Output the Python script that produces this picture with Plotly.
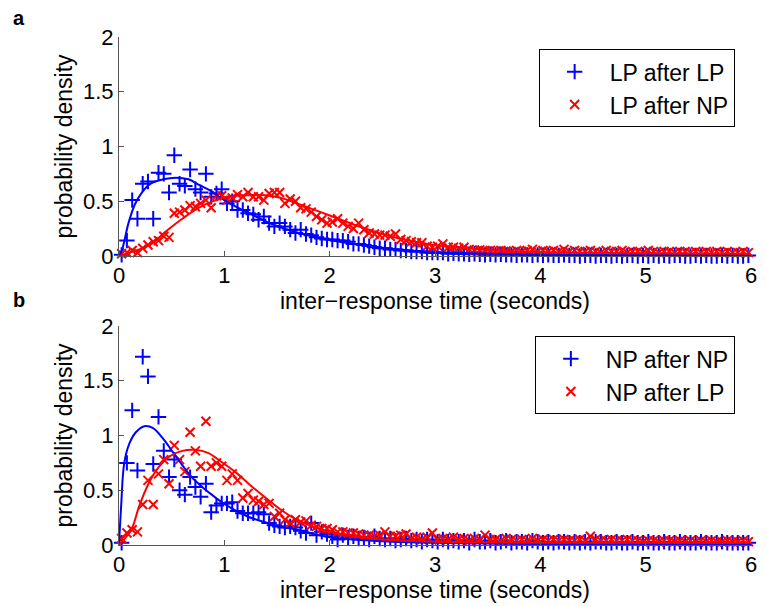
import numpy as np
import plotly.graph_objects as go

# ---- data: histogram bin centres (seconds) ----
bin_centers = np.round(0.025 + 0.05 * np.arange(120), 3)

# panel a
lp_after_lp = [
    0.01, 0.14, 0.51, 0.34, 0.66, 0.68, 0.34, 0.76, 0.75, 0.58,
    0.92, 0.66, 0.64, 0.79, 0.61, 0.58, 0.75, 0.54, 0.57, 0.61,
    0.48, 0.50, 0.42, 0.42, 0.39, 0.38, 0.33, 0.36, 0.30, 0.27,
    0.30, 0.27, 0.24, 0.21, 0.24, 0.20, 0.19, 0.17, 0.16, 0.15,
    0.15, 0.14, 0.14, 0.13, 0.11, 0.11, 0.10, 0.09, 0.08, 0.07,
    0.07, 0.06, 0.06, 0.05, 0.05, 0.04, 0.04, 0.04, 0.03, 0.03,
    0.03, 0.03, 0.02, 0.025, 0.02, 0.02, 0.015, 0.02, 0.015, 0.01,
    0.015, 0.01, 0.015, 0.01, 0.01, 0.005, 0.01, 0.01, 0.005, 0.01,
    0.005, 0.01, 0.005, 0.005, 0.01, 0.005, 0.005, 0.0, 0.005, 0.005,
    0.0, 0.005, 0.005, 0.0, 0.005, 0.0, 0.005, 0.005, 0.0, 0.005,
    0.0, 0.005, 0.0, 0.005, 0.0, 0.005, 0.005, 0.0, 0.0, 0.005,
    0.0, 0.005, 0.0, 0.0, 0.005, 0.0, 0.005, 0.0, 0.0, 0.005,
]
lp_after_np = [
    0.02, 0.03, 0.05, 0.03, 0.07, 0.10, 0.13, 0.14, 0.18, 0.17,
    0.39, 0.40, 0.42, 0.46, 0.45, 0.48, 0.51, 0.44, 0.55, 0.55,
    0.51, 0.53, 0.56, 0.54, 0.58, 0.54, 0.54, 0.51, 0.57, 0.58,
    0.58, 0.48, 0.52, 0.50, 0.44, 0.43, 0.40, 0.36, 0.33, 0.30,
    0.31, 0.34, 0.30, 0.27, 0.25, 0.30, 0.24, 0.21, 0.20, 0.19,
    0.19, 0.18, 0.20, 0.15, 0.14, 0.13, 0.12, 0.12, 0.09, 0.08,
    0.09, 0.11, 0.08, 0.08, 0.07, 0.08, 0.06, 0.055, 0.055, 0.05,
    0.05, 0.045, 0.05, 0.045, 0.04, 0.05, 0.04, 0.05, 0.06, 0.04,
    0.05, 0.04, 0.05, 0.04, 0.06, 0.04, 0.05, 0.04, 0.04, 0.05,
    0.04, 0.03, 0.05, 0.04, 0.04, 0.05, 0.03, 0.04, 0.04, 0.03,
    0.05, 0.04, 0.03, 0.04, 0.04, 0.03, 0.04, 0.04, 0.03, 0.04,
    0.03, 0.04, 0.03, 0.04, 0.03, 0.04, 0.03, 0.03, 0.04, 0.03,
]

# panel b
np_after_np = [
    0.02, 0.75, 1.23, 0.68, 1.72, 1.54, 0.74, 1.17, 0.86, 0.62,
    0.78, 0.50, 0.46, 0.62, 0.53, 0.44, 0.56, 0.30, 0.36, 0.38,
    0.38, 0.39, 0.31, 0.29, 0.29, 0.29, 0.30, 0.28, 0.20, 0.18,
    0.17, 0.16, 0.17, 0.16, 0.13, 0.11, 0.20, 0.09, 0.12, 0.10,
    0.08, 0.05, 0.09, 0.07, 0.08, 0.06, 0.07, 0.05, 0.08, 0.06,
    0.05, 0.06, 0.04, 0.05, 0.06, 0.04, 0.05, 0.03, 0.05, 0.04,
    0.03, 0.05, 0.03, 0.04, 0.03, 0.04, 0.02, 0.05, 0.03, 0.03,
    0.04, 0.02, 0.03, 0.04, 0.02, 0.03, 0.03, 0.02, 0.04, 0.03,
    0.02, 0.03, 0.02, 0.03, 0.03, 0.02, 0.03, 0.02, 0.03, 0.02,
    0.03, 0.03, 0.02, 0.02, 0.03, 0.02, 0.02, 0.03, 0.02, 0.02,
    0.03, 0.02, 0.02, 0.03, 0.02, 0.02, 0.03, 0.02, 0.02, 0.02,
    0.03, 0.02, 0.02, 0.02, 0.03, 0.02, 0.02, 0.02, 0.02, 0.02,
]
np_after_lp = [
    0.06, 0.11, 0.14, 0.12, 0.37, 0.59, 0.37, 0.65, 0.78, 0.56,
    0.91, 0.78, 0.67, 1.03, 0.86, 0.72, 1.13, 0.72, 0.75, 0.72,
    0.59, 0.65, 0.59, 0.43, 0.47, 0.41, 0.40, 0.37, 0.38, 0.26,
    0.29, 0.23, 0.20, 0.23, 0.21, 0.22, 0.18, 0.17, 0.15, 0.15,
    0.14, 0.12, 0.12, 0.11, 0.11, 0.10, 0.09, 0.09, 0.08, 0.09,
    0.12, 0.08, 0.08, 0.09, 0.10, 0.06, 0.07, 0.05, 0.07, 0.11,
    0.05, 0.06, 0.05, 0.07, 0.05, 0.06, 0.04, 0.06, 0.05, 0.09,
    0.05, 0.05, 0.04, 0.06, 0.05, 0.04, 0.05, 0.04, 0.06, 0.04,
    0.05, 0.04, 0.05, 0.04, 0.05, 0.04, 0.04, 0.05, 0.04, 0.08,
    0.05, 0.04, 0.04, 0.05, 0.04, 0.04, 0.05, 0.04, 0.04, 0.03,
    0.04, 0.04, 0.03, 0.04, 0.04, 0.03, 0.04, 0.03, 0.04, 0.03,
    0.04, 0.03, 0.04, 0.03, 0.03, 0.04, 0.03, 0.03, 0.04, 0.03,
]

# fitted curves
fit_a_blue_x = [0, 0.03, 0.09, 0.15, 0.21, 0.3, 0.42, 0.54, 0.66, 0.76, 0.88, 1.0,
                1.17, 1.32, 1.48, 1.67, 2.0, 2.5, 3.0, 3.5, 4.0, 5.0, 6.0]
fit_a_blue_y = [0, 0.06, 0.30, 0.47, 0.57, 0.66, 0.70, 0.715, 0.70, 0.65, 0.59, 0.51,
                0.42, 0.35, 0.28, 0.22, 0.145, 0.075, 0.035, 0.02, 0.012, 0.006, 0.004]
fit_a_red_x = [0, 0.13, 0.29, 0.44, 0.6, 0.755, 0.92, 1.075, 1.23, 1.39, 1.54, 1.69,
               2.0, 2.25, 2.5, 2.75, 3.0, 3.5, 4.0, 5.0, 6.0]
fit_a_red_y = [0, 0.04, 0.10, 0.22, 0.34, 0.44, 0.51, 0.55, 0.555, 0.555, 0.53, 0.48,
               0.37, 0.28, 0.20, 0.14, 0.10, 0.055, 0.035, 0.025, 0.02]
fit_b_blue_x = [0, 0.02, 0.05, 0.1, 0.16, 0.24, 0.32, 0.42, 0.51, 0.6, 0.69, 0.79, 0.88,
                0.97, 1.07, 1.22, 1.38, 1.54, 1.69, 2.0, 2.5, 3.0, 4.0, 5.0, 6.0]
fit_b_blue_y = [0, 0.35, 0.75, 0.93, 1.03, 1.085, 1.07, 0.97, 0.85, 0.73, 0.62, 0.53, 0.46,
                0.395, 0.335, 0.26, 0.21, 0.165, 0.14, 0.07, 0.035, 0.02, 0.01, 0.006, 0.005]
fit_b_red_x = [0, 0.07, 0.13, 0.19, 0.28, 0.38, 0.48, 0.6, 0.72, 0.85, 0.97, 1.1, 1.23,
               1.38, 1.54, 1.69, 2.0, 2.25, 2.5, 3.0, 3.5, 4.0, 5.0, 6.0]
fit_b_red_y = [0, 0.076, 0.17, 0.35, 0.56, 0.715, 0.81, 0.86, 0.87, 0.84, 0.76, 0.67, 0.56,
               0.44, 0.32, 0.23, 0.12, 0.075, 0.05, 0.03, 0.025, 0.02, 0.02, 0.02]

x_ticks = [0, 1, 2, 3, 4, 5, 6]
y_ticks = [0, 0.5, 1, 1.5, 2]
y_ticktext = ["0", "0.5", "1", "1.5", "2"]

BLUE = "#0000FF"
RED = "#FF0000"
FONT = "Liberation Sans, Arial, sans-serif"
TICK_SIZE = 22
TITLE_SIZE = 23

fig = go.Figure()

def add_panel(xa, ya, legend, blue_y, red_y, blue_name, red_name, bx, by, rx, ry):
    fig.add_trace(go.Scatter(x=bin_centers, y=blue_y, mode="markers", name=blue_name,
                             marker=dict(symbol="cross-thin", size=11, line=dict(color=BLUE, width=2)),
                             xaxis=xa, yaxis=ya, legend=legend, cliponaxis=False))
    fig.add_trace(go.Scatter(x=bin_centers, y=red_y, mode="markers", name=red_name,
                             marker=dict(symbol="x-thin", size=9, line=dict(color=RED, width=2)),
                             xaxis=xa, yaxis=ya, legend=legend, cliponaxis=False))
    fig.add_trace(go.Scatter(x=bx, y=by, mode="lines", line=dict(color=BLUE, width=2, shape="spline"),
                             xaxis=xa, yaxis=ya, showlegend=False))
    fig.add_trace(go.Scatter(x=rx, y=ry, mode="lines", line=dict(color=RED, width=2, shape="spline"),
                             xaxis=xa, yaxis=ya, showlegend=False))

add_panel("x", "y", "legend", lp_after_lp, lp_after_np, "LP after LP", "LP after NP",
          fit_a_blue_x, fit_a_blue_y, fit_a_red_x, fit_a_red_y)
add_panel("x2", "y2", "legend2", np_after_np, np_after_lp, "NP after NP", "NP after LP",
          fit_b_blue_x, fit_b_blue_y, fit_b_red_x, fit_b_red_y)

axis_common = dict(showline=True, linecolor="#555555", linewidth=1, ticks="inside", ticklen=5,
                   tickcolor="#555555", showgrid=False, zeroline=False, mirror=False,
                   tickfont=dict(family=FONT, size=TICK_SIZE, color="black"))

xa = dict(axis_common, range=[0, 6], tickvals=x_ticks,
          title=dict(text="inter\u2212response time (seconds)",
                     font=dict(family=FONT, size=TITLE_SIZE, color="black"), standoff=1))
ya = dict(axis_common, range=[0, 2], tickvals=y_ticks, ticktext=y_ticktext,
          title=dict(text="probability density",
                     font=dict(family=FONT, size=TITLE_SIZE, color="black"), standoff=3))

legend_common = dict(bgcolor="white", bordercolor="black", borderwidth=1,
                     font=dict(family=FONT, size=TITLE_SIZE, color="black"),
                     xanchor="left", yanchor="top", itemwidth=60, tracegroupgap=0)

fig.update_layout(
    width=766, height=606,
    margin=dict(l=119, r=9, t=37, b=61),
    paper_bgcolor="white", plot_bgcolor="white",
    font=dict(family=FONT, size=TITLE_SIZE, color="black"),
    xaxis=dict(xa, domain=[0, 1], anchor="y"),
    yaxis=dict(ya, domain=[0.569, 1.0], anchor="x"),
    xaxis2=dict(xa, domain=[0, 1], anchor="y2"),
    yaxis2=dict(ya, domain=[0.0, 0.431], anchor="x2"),
    legend=dict(legend_common, x=0.664, y=0.976),
    legend2=dict(legend_common, x=0.658, y=0.411),
    annotations=[
        dict(text="<b>a</b>", x=-0.158, y=1.037, xref="paper", yref="paper",
             xanchor="center", yanchor="middle", showarrow=False,
             font=dict(family=FONT, size=20, color="black")),
        dict(text="<b>b</b>", x=-0.158, y=0.482, xref="paper", yref="paper",
             xanchor="center", yanchor="middle", showarrow=False,
             font=dict(family=FONT, size=20, color="black")),
    ],
)

fig.write_html("out.html")
